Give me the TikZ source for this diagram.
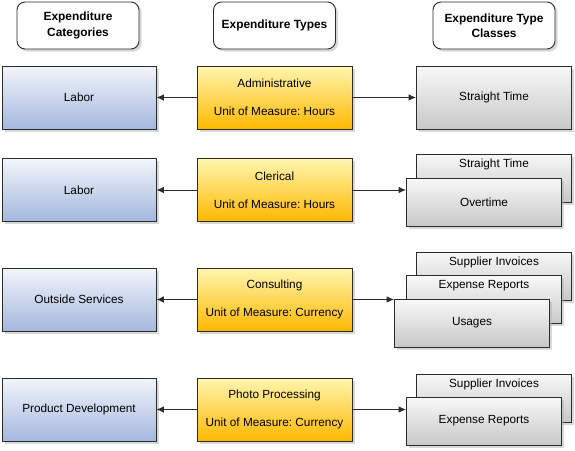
\documentclass[tikz,border=0pt]{standalone}
\usepackage{fontspec}
\setmainfont{Liberation Sans}
\usetikzlibrary{arrows.meta,positioning,shadows}
\definecolor{catTop}{HTML}{F2F5FB}
\definecolor{catBot}{HTML}{A3B8DD}
\definecolor{typTop}{HTML}{FFF6B0}
\definecolor{typBot}{HTML}{FFB800}
\definecolor{clsTop}{HTML}{F8F8F8}
\definecolor{clsBot}{HTML}{C8C8C8}
\definecolor{edge}{HTML}{2B2B2B}
\frenchspacing

\begin{document}
\begin{tikzpicture}[x=1pt,y=-1pt,
  font=\fontsize{11.8}{14}\selectfont,
  shd/.style={drop shadow={shadow xshift=2.5pt,shadow yshift=-2.5pt,fill=black!30}},
  hdr/.style={draw=edge,line width=0.9pt,rounded corners=8pt,fill=white,shd,
              minimum width=122pt,minimum height=47pt,align=center,
              font=\fontsize{11.9}{15.5}\selectfont\bfseries},
  cat/.style={draw=edge,line width=0.9pt,top color=catTop,bottom color=catBot,shd,
              minimum width=154pt,minimum height=63pt,inner sep=0pt},
  typ/.style={draw=edge,line width=0.9pt,top color=typTop,bottom color=typBot,shd,
              minimum width=155pt,minimum height=63pt,inner sep=0pt,align=center},
  cls/.style={draw=edge,line width=0.9pt,top color=clsTop,bottom color=clsBot,shd,
              minimum width=155pt,minimum height=48pt,inner sep=0pt},
  clsback/.style={cls,label={[anchor=north,inner sep=3pt,yshift=-2pt]north:#1}},
  arr/.style={-{Latex[length=7.5pt,width=6.5pt]},line width=0.9pt,edge}
]
\useasboundingbox (0,0) rectangle (575,450);

% ---- Headers ------------------------------------------------
\node[hdr] (h1) at (78,25.5)   {Expenditure\\Categories};
\node[hdr] (h2) at (274.5,25.5) {Expenditure Types};
\node[hdr] (h3) at (494,25.5)  {Expenditure Type\\Classes};

% ---- Row 1 --------------------------------------------------
\node[cat] (c1) at (79,97.5)    {Labor};
\node[typ] (t1) at (274.5,97.5) {Administrative\\[14pt]Unit of Measure: Hours};
\node[cls,minimum height=63pt] (s1) at (494,97.5) {Straight Time};
\draw[arr] (t1.west) -- (c1.east);
\draw[arr] (t1.east) -- (s1.west);

% ---- Row 2 --------------------------------------------------
\node[cat] (c2) at (79,190)    {Labor};
\node[typ] (t2) at (274.5,190) {Clerical\\[14pt]Unit of Measure: Hours};
\node[clsback={Straight Time}] (s2a) at (494,178) {};
\node[cls] (s2b) at (484,202) {Overtime};
\draw[arr] (t2.west) -- (c2.east);
\draw[arr] (t2.east) -- (t2.east -| s2b.west);

% ---- Row 3 --------------------------------------------------
\node[cat] (c3) at (79,299.5)    {Outside Services};
\node[typ] (t3) at (274.5,299.5) {Consulting\\[14pt]Unit of Measure: Currency};
\node[clsback={Supplier Invoices}] (s3a) at (494,276) {};
\node[clsback={Expense Reports}]   (s3b) at (484,299.5) {};
\node[cls] (s3c) at (472,323) {Usages};
\draw[arr] (t3.west) -- (c3.east);
\draw[arr] (t3.east) -- (t3.east -| s3c.west);

% ---- Row 4 --------------------------------------------------
\node[cat] (c4) at (79,409.5)    {Product Development};
\node[typ] (t4) at (274.5,409.5) {Photo Processing\\[14pt]Unit of Measure: Currency};
\node[clsback={Supplier Invoices}] (s4a) at (494,398) {};
\node[cls] (s4b) at (484,421) {Expense Reports};
\draw[arr] (t4.west) -- (c4.east);
\draw[arr] (t4.east) -- (t4.east -| s4b.west);

\end{tikzpicture}
\end{document}
